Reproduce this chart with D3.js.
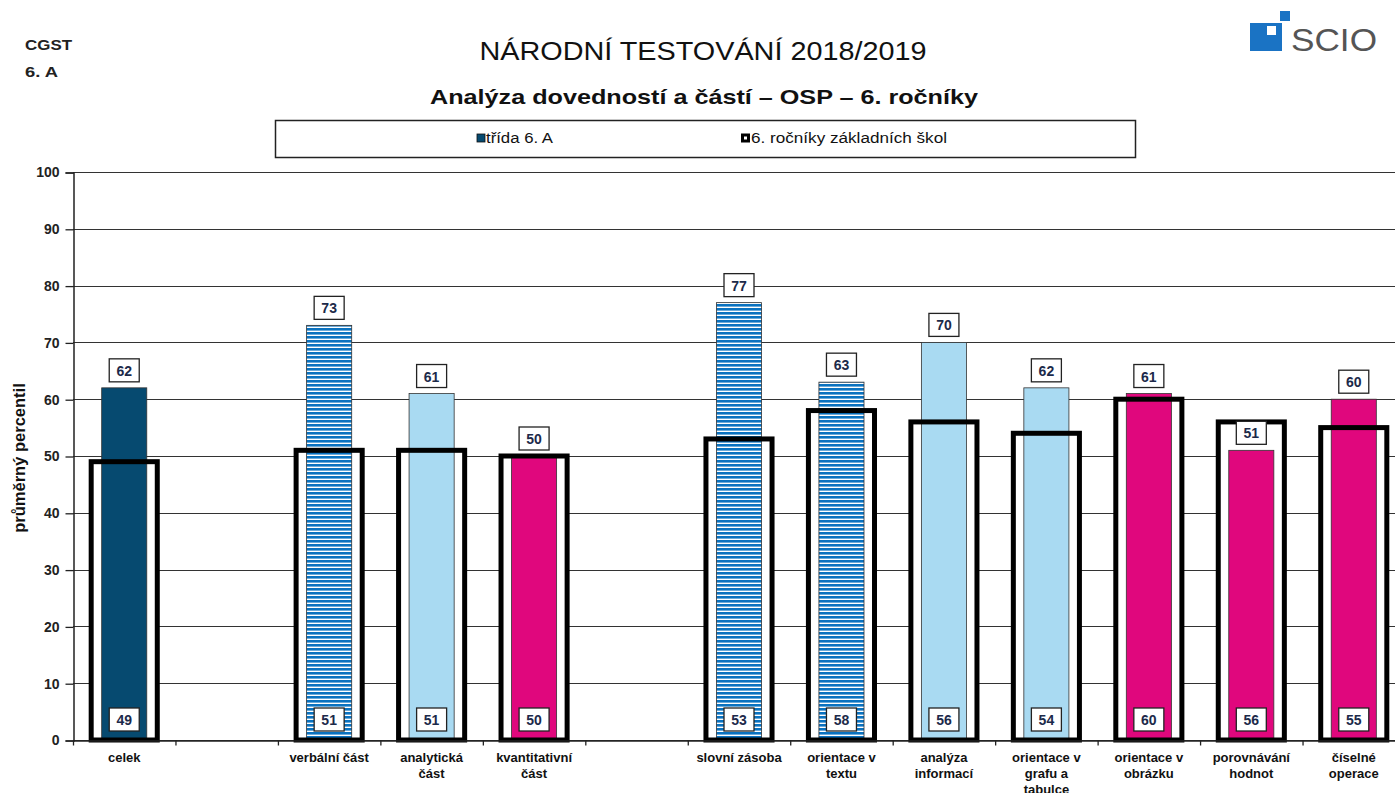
<!DOCTYPE html>
<html>
<head>
<meta charset="utf-8">
<script src="https://cdn.jsdelivr.net/npm/d3@7"></script>
<style>
  body { margin: 0; background: #fff; }
  svg text { font-family: "Liberation Sans", Arial, sans-serif; }
</style>
</head>
<body>
<div id="chart"></div>
<script>
// Chart data
var categories = ["celek", "", "verbální část", "analytická|část", "kvantitativní|část", "",
    "slovní zásoba", "orientace v|textu", "analýza|informací", "orientace v|grafu a|tabulce",
    "orientace v|obrázku", "porovnávání|hodnot", "číselné|operace"];
var classValues = [62, null, 73, 61, 50, null, 77, 63, 70, 62, 61, 51, 60];
var schoolValues = [49, null, 51, 51, 50, null, 53, 58, 56, 54, 60, 56, 55];
var groups = ["celek", null, "verbal", "analytic", "quant", null,
    "verbal", "verbal", "analytic", "analytic", "quant", "quant", "quant"];
var yTicks = [0, 10, 20, 30, 40, 50, 60, 70, 80, 90, 100];
var legendLabels = ["třída  6. A", "6. ročníky základních škol"];

var svgWidth = 1395;
var svgHeight = 793;

var margin = { top: 172, left: 73, bottom: 53 };
var plotRight = 1405;
var chartHeight = svgHeight - margin.top - margin.bottom;

var colors = {
    celek: "#064a70",
    verbal: "url(#stripes)",
    analytic: "#a9daf2",
    quant: "#e0077d"
};

var svg = d3.select("#chart")
    .append("svg")
    .attr("width", svgWidth)
    .attr("height", svgHeight);

// stripes for the verbal bars
var pattern = svg.append("defs").append("pattern")
    .attr("id", "stripes")
    .attr("patternUnits", "userSpaceOnUse")
    .attr("width", 8)
    .attr("height", 4);
pattern.append("rect").attr("width", 8).attr("height", 4).attr("fill", "#ffffff");
pattern.append("rect").attr("width", 8).attr("height", 2.6).attr("fill", "#0a72c0");

// Scales
var xScale = d3.scaleBand()
    .domain(d3.range(categories.length))
    .range([margin.left, plotRight])
    .padding(0);

var yScale = d3.scaleLinear()
    .domain([0, 100])
    .range([margin.top + chartHeight, margin.top]);

// Header texts
svg.append("text").attr("x", 25).attr("y", 50)
    .attr("font-size", 15).attr("font-weight", "bold").attr("fill", "#222")
    .attr("textLength", 47).attr("lengthAdjust", "spacingAndGlyphs")
    .text("CGST");
svg.append("text").attr("x", 25).attr("y", 77)
    .attr("font-size", 15).attr("font-weight", "bold").attr("fill", "#222")
    .attr("textLength", 33).attr("lengthAdjust", "spacingAndGlyphs")
    .text("6. A");

svg.append("text").attr("x", 703).attr("y", 60)
    .attr("text-anchor", "middle").attr("font-size", 26).attr("fill", "#111")
    .attr("textLength", 447).attr("lengthAdjust", "spacingAndGlyphs")
    .text("NÁRODNÍ TESTOVÁNÍ 2018/2019");
svg.append("text").attr("x", 704).attr("y", 104)
    .attr("text-anchor", "middle").attr("font-size", 21).attr("font-weight", "bold").attr("fill", "#111")
    .attr("textLength", 548).attr("lengthAdjust", "spacingAndGlyphs")
    .text("Analýza dovedností a částí – OSP – 6. ročníky");

// SCIO logo
var logo = svg.append("g");
logo.append("rect").attr("x", 1250).attr("y", 23).attr("width", 32).attr("height", 28).attr("fill", "#1a73c4");
logo.append("rect").attr("x", 1267).attr("y", 26).attr("width", 9).attr("height", 9).attr("fill", "#fff");
logo.append("rect").attr("x", 1280).attr("y", 11).attr("width", 10).attr("height", 10).attr("fill", "#1a73c4");
logo.append("text").attr("x", 1291).attr("y", 51)
    .attr("font-size", 32).attr("fill", "#555")
    .attr("font-family", "DejaVu Sans, sans-serif").attr("font-weight", 200)
    .attr("textLength", 86).attr("lengthAdjust", "spacingAndGlyphs")
    .text("SCIO");

// Legend
svg.append("rect").attr("x", 275.5).attr("y", 120.5).attr("width", 860).attr("height", 37)
    .attr("fill", "#fff").attr("stroke", "#222").attr("stroke-width", 1.5);
svg.append("rect").attr("x", 477).attr("y", 134).attr("width", 8).attr("height", 8)
    .attr("fill", colors.celek).attr("stroke", "#111").attr("stroke-width", 0.8);
svg.append("text").attr("x", 486).attr("y", 143).attr("font-size", 14).attr("fill", "#111")
    .attr("textLength", 67).attr("lengthAdjust", "spacingAndGlyphs")
    .text(legendLabels[0]);
svg.append("rect").attr("x", 741).attr("y", 133.5).attr("width", 9).attr("height", 9)
    .attr("fill", "#000");
svg.append("rect").attr("x", 744).attr("y", 136.5).attr("width", 3).attr("height", 3)
    .attr("fill", "#fff");
svg.append("text").attr("x", 751).attr("y", 143).attr("font-size", 14).attr("fill", "#111")
    .attr("textLength", 196).attr("lengthAdjust", "spacingAndGlyphs")
    .text(legendLabels[1]);

// Gridlines
svg.append("g").selectAll("line")
    .data(yTicks)
    .join("line")
    .attr("x1", margin.left).attr("x2", plotRight)
    .attr("y1", d => Math.round(yScale(d)) + 0.5).attr("y2", d => Math.round(yScale(d)) + 0.5)
    .attr("stroke", "#333").attr("stroke-width", 1);

// Y axis
var leftAxis = d3.axisLeft(yScale).tickValues(yTicks).tickSize(8).tickPadding(6);
var yAxis = svg.append("g")
    .attr("transform", `translate(${margin.left + 0.5}, 0.5)`)
    .call(leftAxis);
yAxis.select(".domain").attr("stroke", "#222").attr("stroke-width", 1.5);
yAxis.selectAll(".tick line").attr("stroke", "#222").attr("stroke-width", 1.3);
yAxis.selectAll(".tick text")
    .attr("font-size", 14).attr("font-weight", "bold").attr("fill", "#222")
    .attr("font-family", "Liberation Sans, Arial, sans-serif");

svg.append("text")
    .attr("transform", "translate(25, 458) rotate(-90)")
    .attr("text-anchor", "middle").attr("font-size", 16.5).attr("font-weight", "bold").attr("fill", "#111")
    .text("průměrný percentil");

var items = categories.map((c, i) => ({ i: i, label: c, cls: classValues[i], avg: schoolValues[i], group: groups[i] }))
    .filter(d => d.cls !== null);

var bw = xScale.bandwidth();
var barW = bw * 0.44;
var frameW = bw * 0.645;
var y0 = yScale(0);

// school average frames (white background)
svg.append("g").selectAll("rect")
    .data(items)
    .join("rect")
    .attr("x", d => xScale(d.i) + (bw - frameW) / 2)
    .attr("y", d => yScale(d.avg))
    .attr("width", frameW)
    .attr("height", d => y0 - yScale(d.avg))
    .attr("fill", "#fff")
    .attr("stroke", "#999").attr("stroke-width", 1);

// class bars
svg.append("g").selectAll("rect")
    .data(items)
    .join("rect")
    .attr("x", d => xScale(d.i) + (bw - barW) / 2)
    .attr("y", d => yScale(d.cls))
    .attr("width", barW)
    .attr("height", d => y0 - yScale(d.cls))
    .attr("fill", d => colors[d.group])
    .attr("stroke", "#333").attr("stroke-width", 0.8);

// frame outlines on top
svg.append("g").selectAll("rect")
    .data(items)
    .join("rect")
    .attr("x", d => xScale(d.i) + (bw - frameW) / 2)
    .attr("y", d => yScale(d.avg))
    .attr("width", frameW)
    .attr("height", d => y0 - yScale(d.avg))
    .attr("fill", "none")
    .attr("stroke", "#000").attr("stroke-width", 5);

// X axis
var bottomAxis = d3.axisBottom(xScale).tickSize(0).tickFormat("");
var xAxis = svg.append("g")
    .attr("transform", `translate(0, ${y0 + 0.5})`)
    .call(bottomAxis);
xAxis.select(".domain").attr("stroke", "#222").attr("stroke-width", 1.3);
xAxis.append("g").selectAll("line")
    .data(d3.range(categories.length + 1))
    .join("line")
    .attr("x1", i => margin.left + 0.5 + i * bw).attr("x2", i => margin.left + 0.5 + i * bw)
    .attr("y1", 0).attr("y2", 5)
    .attr("stroke", "#222").attr("stroke-width", 1.3);

// category labels
var labels = svg.append("g").selectAll("text")
    .data(items)
    .join("text")
    .attr("x", d => xScale(d.i) + bw / 2)
    .attr("y", 762)
    .attr("text-anchor", "middle")
    .attr("font-size", 13).attr("font-weight", "bold").attr("fill", "#111");
labels.selectAll("tspan")
    .data(d => d.label.split("|").map(s => ({ s: s, x: xScale(d.i) + bw / 2 })))
    .join("tspan")
    .attr("x", t => t.x)
    .attr("dy", (t, j) => j === 0 ? 0 : 16)
    .text(t => t.s);

// value boxes
function valueBox(sel, xf, yf) {
    sel.append("rect")
        .attr("x", d => xf(d) - 15).attr("y", d => yf(d) - 12)
        .attr("width", 30).attr("height", 23)
        .attr("fill", "#fff").attr("stroke", "#222").attr("stroke-width", 1.3);
    sel.append("text")
        .attr("x", xf).attr("y", d => yf(d) + 5)
        .attr("text-anchor", "middle")
        .attr("font-size", 14).attr("font-weight", "bold").attr("fill", "#1c2a4a");
}

var topBoxes = svg.append("g").selectAll("g")
    .data(items)
    .join("g");
valueBox(topBoxes, d => xScale(d.i) + bw / 2, d => yScale(d.cls) - 17);
topBoxes.select("text").text(d => d.cls);

var bottomBoxes = svg.append("g").selectAll("g")
    .data(items)
    .join("g");
valueBox(bottomBoxes, d => xScale(d.i) + bw / 2, d => y0 - 20);
bottomBoxes.select("text").text(d => d.avg);
</script>
</body>
</html>
